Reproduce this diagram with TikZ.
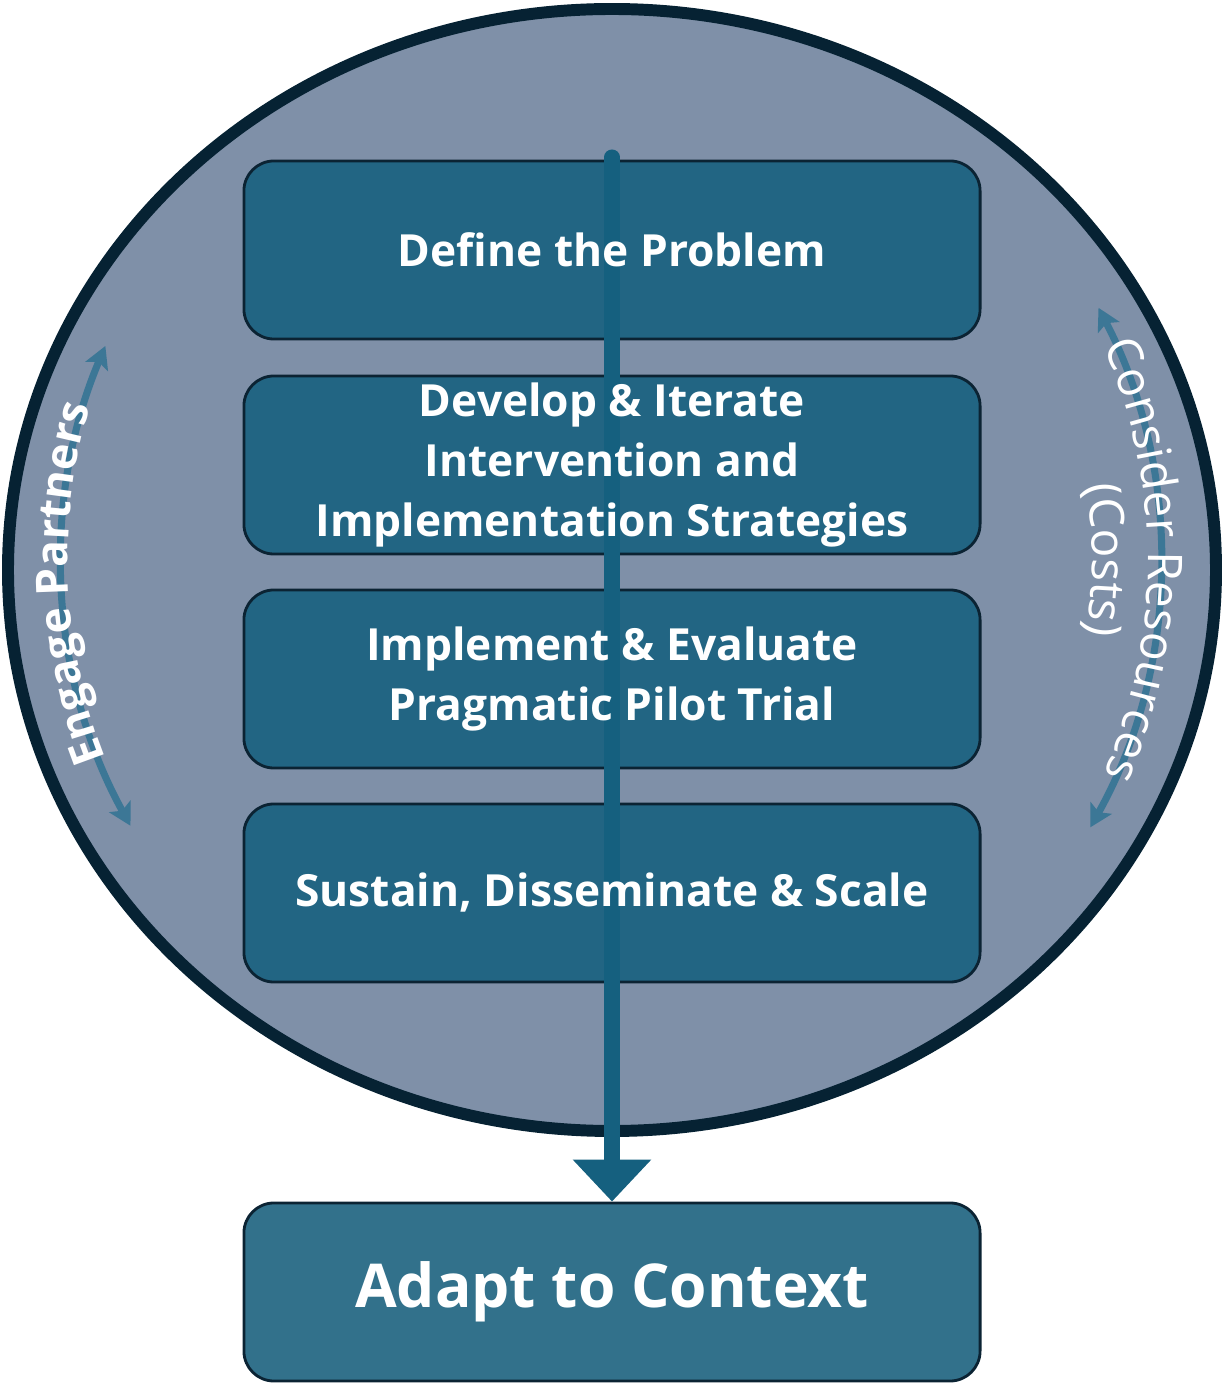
\documentclass[tikz,border=0pt]{standalone}
\usepackage{fontspec}
\setmainfont{Open Sans}
\usetikzlibrary{arrows.meta,decorations.text}
\definecolor{ringfill}{HTML}{7F90A8}
\definecolor{ringline}{HTML}{062233}
\definecolor{boxfill}{HTML}{226583}
\definecolor{boxline}{HTML}{0B2333}
\definecolor{adaptfill}{HTML}{32718B}
\definecolor{flowblue}{HTML}{15607F}
\definecolor{sideblue}{HTML}{3C7796}
\begin{document}
\begin{tikzpicture}[x=0.025cm,y=0.025cm,
  stepbox/.style={draw=boxline,line width=2pt,fill=boxfill,rounded corners=0.75cm,minimum width=18.4cm,minimum height=4.45cm},
  steptext/.style={text=white,font=\bfseries\fontsize{31.5}{42.7}\selectfont,align=center},
  sidearrow/.style={draw=sideblue,line width=5pt,arrows={Stealth[length=0.55cm,width=0.6cm,inset=0.12cm]-Stealth[length=0.55cm,width=0.6cm,inset=0.12cm]}},
  flow/.style={draw=flowblue,line width=10.7pt,line cap=round,-{Triangle[width=1.9cm,length=1.05cm]}}]
\useasboundingbox (0,0) rectangle (1224,1383);
% ring
\draw[fill=ringfill,draw=ringline,line width=8.5pt] (612,813) ellipse [x radius=604, y radius=561];
\coordinate (cen) at (612,823);
% step boxes
\node[stepbox] (define) at (612,1133) {};
\node[stepbox] (develop) at (612,918) {};
\node[stepbox] (implement) at (612,704) {};
\node[stepbox] (sustain) at (612,490) {};
\node[stepbox,fill=adaptfill] (adapt) at (612,91) {};
% side arrows and labels
\draw[sidearrow] ([shift={(208.9:550)}]cen) arc[start angle=208.9, end angle=157.1, radius=550];
\draw[sidearrow] ([shift={(-29.2:548)}]cen) arc[start angle=-29.2, end angle=27.4, radius=548];
\path[decorate,decoration={text along path,text align=center,
  text={|\color{white}\bfseries\fontsize{31.5}{38}\selectfont|Engage Partners}}]
  ([shift={(232:544)}]cen) arc[start angle=232, end angle=133, radius=544];
\path[decorate,decoration={text along path,text align=center,
  text={|\color{white}\fontsize{34}{40}\selectfont|Consider Resources}}]
  ([shift={(60:536)}]cen) arc[start angle=60, end angle=-60, radius=536];
\path[decorate,decoration={text along path,text align=center,
  text={|\color{white}\fontsize{34}{40}\selectfont|(Costs)}}]
  ([shift={(30:480)}]cen) arc[start angle=30, end angle=-30, radius=480];
% main flow
\coordinate (flowtop) at (612,1226);
\draw[flow] (flowtop) -- (adapt.north);
% step texts
\node[steptext] (defineT) at (define) {Define the Problem};
\node[steptext] (developT) at (develop) {Develop \& Iterate\\Intervention and\\Implementation Strategies};
\node[steptext] (implementT) at (implement) {Implement \& Evaluate\\Pragmatic Pilot Trial};
\node[steptext] (sustainT) at (sustain) {Sustain, Disseminate \& Scale};
\node[steptext,font=\bfseries\fontsize{43}{52}\selectfont] (adaptT) at (adapt) {Adapt to Context};
\end{tikzpicture}
\end{document}
